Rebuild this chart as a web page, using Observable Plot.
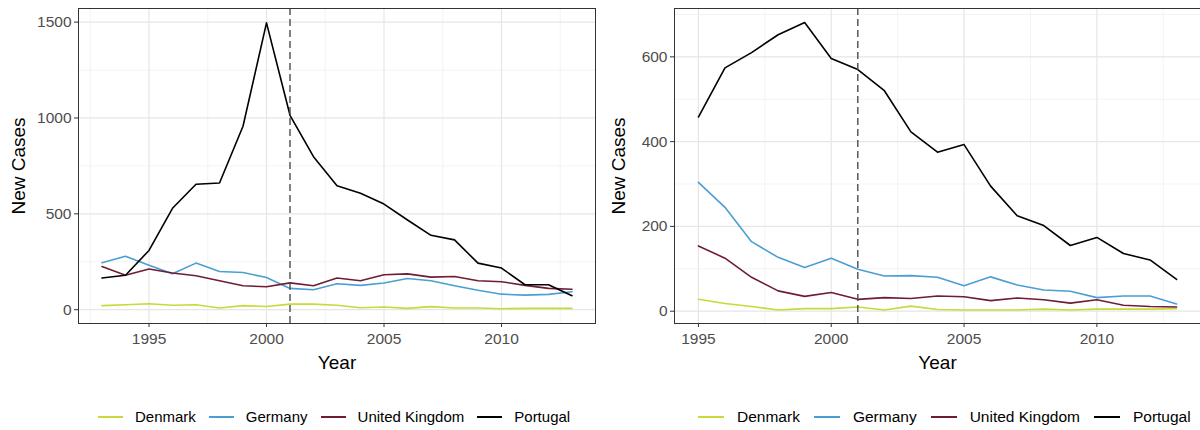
<!DOCTYPE html>
<html>
<head>
<meta charset="utf-8">
<script src="https://cdn.jsdelivr.net/npm/d3@7"></script>
<script src="https://cdn.jsdelivr.net/npm/@observablehq/plot@0.6"></script>
<style>
  html, body { margin: 0; padding: 0; background: #fff; }
  body { width: 1200px; height: 430px; overflow: hidden; font-family: "Liberation Sans", Arial, Helvetica, sans-serif; }
  #wrap { position: relative; width: 1200px; height: 430px; }
  .panel { position: absolute; top: 0; }
  .legend { position: absolute; top: 408px; display: flex; align-items: center; font-size: 15px; color: #000; white-space: nowrap; }
  .legend .sw { display: inline-block; width: 25px; height: 2px; margin-right: 12px; }
  .legend .item { display: flex; align-items: center; margin-right: 13px; }
  .legend.big { font-size: 15.5px; }
  .legend.big .sw { width: 26px; margin-right: 13px; }
  .legend.big .item { margin-right: 14px; }
</style>
</head>
<body>
<div id="wrap"></div>
<script>
// ---- data ----
const countries = ["Denmark", "Germany", "United Kingdom", "Portugal"];
const countryColors = ["#c8d93a", "#4a9fd2", "#6f1c36", "#000000"];

const yearsLeft = [1993,1994,1995,1996,1997,1998,1999,2000,2001,2002,2003,2004,2005,2006,2007,2008,2009,2010,2011,2012,2013];
const denmarkLeft  = [21,26,31,23,26,9,21,17,29,29,23,10,14,7,16,9,9,5,7,7,7];
const germanyLeft  = [245,279,232,187,243,199,194,168,111,104,135,127,139,163,151,125,101,81,76,80,94];
const ukLeft       = [225,180,212,191,177,151,125,120,140,125,165,151,182,187,170,173,151,146,127,111,107];
const portugalLeft = [165,180,309,529,654,661,957,1496,1014,798,647,607,551,468,388,364,243,217,130,130,73];

const yearsRight = [1995,1996,1997,1998,1999,2000,2001,2002,2003,2004,2005,2006,2007,2008,2009,2010,2011,2012,2013];
const denmarkRight  = [28,18,11,3,6,6,10,3,12,4,3,3,3,5,3,5,5,5,6];
const germanyRight  = [304,245,164,127,103,125,99,83,84,80,60,81,62,50,47,32,36,36,17];
const ukRight       = [154,125,80,48,35,44,28,32,30,36,34,25,31,27,19,27,14,11,10];
const portugalRight = [458,574,610,652,681,596,570,520,423,375,393,295,225,202,155,174,136,121,75];

const cutoffYear = [2001];

const xTicksLeft = [1995, 2000, 2005, 2010];
const xMinorLeft = [1992.5, 1997.5, 2002.5, 2007.5, 2012.5];
const yTicksLeft = [0, 500, 1000, 1500];
const yMinorLeft = [250, 750, 1250];

const xTicksRight = [1995, 2000, 2005, 2010];
const xMinorRight = [1997.5, 2002.5, 2007.5, 2012.5];
const yTicksRight = [0, 200, 400, 600];
const yMinorRight = [100, 300, 500, 700];

function toRows(years, series) {
  const rows = [];
  countries.forEach((c, i) => {
    years.forEach((yr, j) => rows.push({country: c, year: yr, value: series[i][j]}));
  });
  return rows;
}

const fmt = d => String(d);

function panel(opts) {
  const rows = toRows(opts.years, opts.series);
  return Plot.plot({
    width: 600,
    height: 380,
    marginLeft: opts.marginLeft,
    marginRight: opts.marginRight,
    marginTop: 8,
    marginBottom: 57,
    style: { fontFamily: '"Liberation Sans", Arial, Helvetica, sans-serif', fontSize: "15.5px", color: "#4d4d4d", background: "#fff" },
    x: { domain: opts.xDomain },
    y: { domain: opts.yDomain },
    color: { domain: countries, range: countryColors },
    marks: [
      Plot.gridX(opts.xMinor, { stroke: "#ebebeb", strokeOpacity: 1, strokeWidth: 0.6 }),
      Plot.gridY(opts.yMinor, { stroke: "#ebebeb", strokeOpacity: 1, strokeWidth: 0.6 }),
      Plot.gridX(opts.xTicks, { stroke: "#e6e6e6", strokeOpacity: 1, strokeWidth: 1.2 }),
      Plot.gridY(opts.yTicks, { stroke: "#e6e6e6", strokeOpacity: 1, strokeWidth: 1.2 }),
      Plot.axisX(opts.xTicks, { tickSize: 4, tickPadding: 5, stroke: "#333", fill: "#4d4d4d", fontSize: 15.5, tickFormat: fmt,
        label: null }),
      Plot.axisX({ ticks: [], tickSize: 0, label: "Year", labelAnchor: "center", labelArrow: "none",
        labelOffset: 45, fill: "#000", fontSize: 19 }),
      Plot.axisY(opts.yTicks, { tickSize: 4, tickPadding: 3, stroke: "#333", fill: "#4d4d4d", fontSize: 15.5, tickFormat: fmt,
        label: null }),
      Plot.axisY({ ticks: [], tickSize: 0, label: "New Cases", labelAnchor: "center", labelArrow: "none",
        labelOffset: opts.yLabelOffset, fill: "#000", fontSize: 19 }),
      Plot.lineY(rows, { x: "year", y: "value", stroke: "country", z: "country", strokeWidth: 1.6 }),
      Plot.ruleX(cutoffYear, { stroke: "#4d4d4d", strokeWidth: 1.4, strokeDasharray: "7,4" }),
      Plot.frame({ stroke: "#333", strokeWidth: 1 })
    ]
  });
}

const wrap = document.getElementById("wrap");

const left = panel({
  years: yearsLeft, series: [denmarkLeft, germanyLeft, ukLeft, portugalLeft],
  xDomain: [1992, 2014], yDomain: [-72, 1571],
  xTicks: xTicksLeft, xMinor: xMinorLeft, yTicks: yTicksLeft, yMinor: yMinorLeft,
  marginLeft: 78, marginRight: 5, yLabelOffset: 67
});
const right = panel({
  years: yearsRight, series: [denmarkRight, germanyRight, ukRight, portugalRight],
  xDomain: [1994.1, 2013.9], yDomain: [-29, 714],
  xTicks: xTicksRight, xMinor: xMinorRight, yTicks: yTicksRight, yMinor: yMinorRight,
  marginLeft: 74, marginRight: 0, yLabelOffset: 63
});

const d1 = document.createElement("div"); d1.className = "panel"; d1.style.left = "0px"; d1.appendChild(left); wrap.appendChild(d1);
const d2 = document.createElement("div"); d2.className = "panel"; d2.style.left = "600px"; d2.appendChild(right); wrap.appendChild(d2);
right.style.overflow = "visible";

function legend(leftPx, big) {
  const lg = document.createElement("div");
  lg.className = big ? "legend big" : "legend";
  lg.style.left = leftPx + "px";
  countries.forEach((c, i) => {
    const it = document.createElement("span"); it.className = "item";
    const sw = document.createElement("span"); sw.className = "sw"; sw.style.background = countryColors[i];
    const tx = document.createElement("span"); tx.textContent = c;
    it.appendChild(sw); it.appendChild(tx); lg.appendChild(it);
  });
  wrap.appendChild(lg);
}
legend(98, false);
legend(698, true);
</script>
</body>
</html>
